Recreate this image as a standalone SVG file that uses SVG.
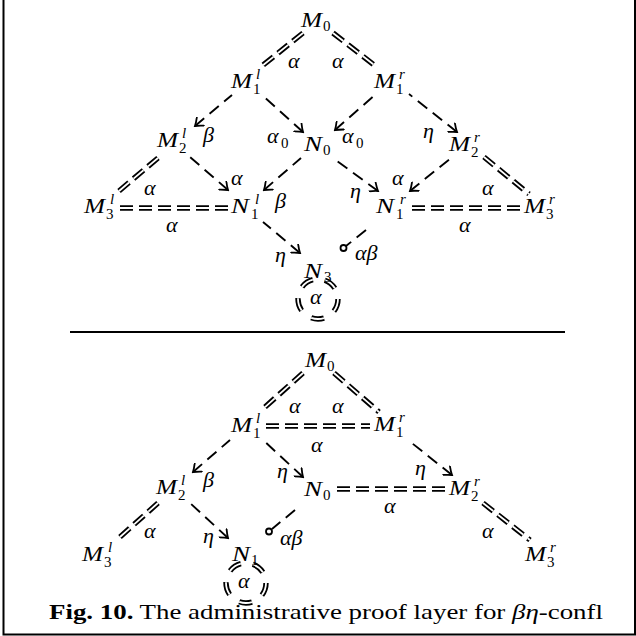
<svg xmlns="http://www.w3.org/2000/svg" width="636" height="636" viewBox="0 0 636 636">
<style>
.m{font-family:"Liberation Serif","Times New Roman",serif;font-style:italic;font-size:22px;fill:#000}
.g{font-family:"Liberation Serif","Times New Roman",serif;font-style:italic;font-size:22px;fill:#000}
.sp{font-family:"Liberation Serif","Times New Roman",serif;font-style:italic;font-size:15px;fill:#000}
.sd{font-family:"Liberation Serif","Times New Roman",serif;font-size:15px;fill:#000}
.cap{font-family:"Liberation Serif","Times New Roman",serif;font-size:21px;fill:#000}
.d{fill:none;stroke:#000;stroke-width:1.9;stroke-dasharray:12 7}
.a{marker-start:url(#ah)}
.bo{fill:none;stroke:#000;stroke-width:5.4;stroke-dasharray:13 6}
.bi{fill:none;stroke:#fff;stroke-width:1.8;stroke-dasharray:13 6}
.co{fill:none;stroke:#000;stroke-width:5.4;stroke-dasharray:13 12.13}
.ci{fill:none;stroke:#fff;stroke-width:1.8;stroke-dasharray:13 12.13}
.lo{fill:#fff;stroke:#000;stroke-width:1.8}
</style>
<defs>
<marker id="ah" viewBox="-8 -6 10 12" refX="0" refY="0" markerWidth="10" markerHeight="12" markerUnits="userSpaceOnUse" orient="auto-start-reverse">
<path d="M-7,-5.5 Q-2.5,-1.5 0,0 Q-2.5,1.5 -7,5.5" fill="none" stroke="#000" stroke-width="1.8" stroke-linecap="round" stroke-dasharray="none"/>
</marker>
</defs>
<rect width="636" height="636" fill="#fff"/>
<path d="M3.5,-2 V634.5 H635 V-2" fill="none" stroke="#000" stroke-width="2"/>
<line x1="70" y1="332" x2="565" y2="332" stroke="#000" stroke-width="2"/>

<g id="connectors">
<!-- top diagram -->
<path class="bo" d="M303,33 L262,66"/><path class="bi" d="M303,33 L262,66"/>
<path class="bo" d="M333,33 L378,68"/><path class="bi" d="M333,33 L378,68"/>
<path class="d a" d="M195,126 L232,95"/>
<path class="d a" d="M303,132 L262,95"/>
<path class="d a" d="M335,130 L376,94"/>
<path class="d a" d="M457,132 L409,94"/>
<path class="d a" d="M228,190 L190,157"/>
<path class="d a" d="M264,190 L301,158"/>
<path class="d a" d="M378,191 L333,158"/>
<path class="d a" d="M410,191 L451,158"/>
<path class="bo" d="M158,158 L119,191"/><path class="bi" d="M158,158 L119,191"/>
<path class="bo" d="M120,208 L228,208"/><path class="bi" d="M120,208 L228,208"/>
<path class="bo" d="M484,157 L529,194"/><path class="bi" d="M484,157 L529,194"/>
<path class="bo" d="M412,208 L522,208"/><path class="bi" d="M412,208 L522,208"/>
<path class="d a" d="M300,253 L263,222"/>
<path class="d" d="M366,230 L346,246"/><circle class="lo" cx="343.5" cy="248" r="3"/>
<circle class="co" cx="318" cy="299" r="20"/><circle class="ci" cx="318" cy="299" r="20"/>
<!-- bottom diagram -->
<path class="bo" d="M303,373 L264,408"/><path class="bi" d="M303,373 L264,408"/>
<path class="bo" d="M334,373 L379,412"/><path class="bi" d="M334,373 L379,412"/>
<path class="bo" d="M266,426 L370,426"/><path class="bi" d="M266,426 L370,426"/>
<path class="d a" d="M193,472 L230,440"/>
<path class="d a" d="M303,477 L263,440"/>
<path class="d a" d="M452,475 L408,440"/>
<path class="bo" d="M337,489 L446,489"/><path class="bi" d="M337,489 L446,489"/>
<path class="bo" d="M158,503 L120,537"/><path class="bi" d="M158,503 L120,537"/>
<path class="d a" d="M228,538 L190,503"/>
<path class="d" d="M295,510 L272,529"/><circle class="lo" cx="269" cy="531.5" r="3"/>
<path class="bo" d="M483,503 L530,540"/><path class="bi" d="M483,503 L530,540"/>
<circle class="co" cx="246" cy="583" r="20"/><circle class="ci" cx="246" cy="583" r="20"/>
</g>

<!-- top nodes -->
<g id="t-M0"><text class="m" x="301" y="27" textLength="21" lengthAdjust="spacingAndGlyphs">M</text><text class="sd" x="323" y="31">0</text></g>
<g id="t-M1l"><text class="m" x="231" y="88" textLength="21" lengthAdjust="spacingAndGlyphs">M</text><text class="sp" x="256" y="79">l</text><text class="sd" x="253" y="94">1</text></g>
<g id="t-M1r"><text class="m" x="374" y="88" textLength="21" lengthAdjust="spacingAndGlyphs">M</text><text class="sp" x="399" y="79">r</text><text class="sd" x="396" y="94">1</text></g>
<g id="t-M2l"><text class="m" x="157" y="147" textLength="21" lengthAdjust="spacingAndGlyphs">M</text><text class="sp" x="182" y="138">l</text><text class="sd" x="179" y="153">2</text></g>
<g id="t-N0"><text class="m" x="304" y="151" textLength="18" lengthAdjust="spacingAndGlyphs">N</text><text class="sd" x="323" y="155">0</text></g>
<g id="t-M2r"><text class="m" x="449" y="151" textLength="21" lengthAdjust="spacingAndGlyphs">M</text><text class="sp" x="474" y="142">r</text><text class="sd" x="471" y="157">2</text></g>
<g id="t-M3l"><text class="m" x="84" y="213" textLength="21" lengthAdjust="spacingAndGlyphs">M</text><text class="sp" x="110" y="204">l</text><text class="sd" x="106" y="219">3</text></g>
<g id="t-N1l"><text class="m" x="231" y="213" textLength="18" lengthAdjust="spacingAndGlyphs">N</text><text class="sp" x="255" y="204">l</text><text class="sd" x="251" y="219">1</text></g>
<g id="t-N1r"><text class="m" x="376" y="213" textLength="18" lengthAdjust="spacingAndGlyphs">N</text><text class="sp" x="400" y="204">r</text><text class="sd" x="396" y="219">1</text></g>
<g id="t-M3r"><text class="m" x="524" y="213" textLength="21" lengthAdjust="spacingAndGlyphs">M</text><text class="sp" x="549" y="204">r</text><text class="sd" x="546" y="219">3</text></g>
<g id="t-N3"><text class="m" x="304" y="278" textLength="18" lengthAdjust="spacingAndGlyphs">N</text><text class="sd" x="324" y="282">3</text></g>

<!-- top labels -->
<g id="t-labels">
<text class="g" x="288" y="68">α</text>
<text class="g" x="332" y="68">α</text>
<text class="g" x="203" y="142">β</text>
<text class="g" x="267" y="143">α</text><text class="sd" x="281" y="148">0</text>
<text class="g" x="342" y="143">α</text><text class="sd" x="356" y="148">0</text>
<text class="g" x="423" y="138">η</text>
<text class="g" x="231" y="185">α</text>
<text class="g" x="144" y="195">α</text>
<text class="g" x="166" y="232">α</text>
<text class="g" x="275" y="208">β</text>
<text class="g" x="350" y="198">η</text>
<text class="g" x="392" y="185">α</text>
<text class="g" x="482" y="195">α</text>
<text class="g" x="459" y="232">α</text>
<text class="g" x="355" y="260">αβ</text>
<text class="g" x="275" y="262">η</text>
<text class="g" x="310" y="304">α</text>
</g>

<!-- bottom nodes -->
<g id="b-M0"><text class="m" x="305" y="367" textLength="21" lengthAdjust="spacingAndGlyphs">M</text><text class="sd" x="327" y="371">0</text></g>
<g id="b-M1l"><text class="m" x="231" y="432" textLength="21" lengthAdjust="spacingAndGlyphs">M</text><text class="sp" x="256" y="423">l</text><text class="sd" x="253" y="438">1</text></g>
<g id="b-M1r"><text class="m" x="374" y="431" textLength="21" lengthAdjust="spacingAndGlyphs">M</text><text class="sp" x="399" y="422">r</text><text class="sd" x="396" y="437">1</text></g>
<g id="b-M2l"><text class="m" x="156" y="494" textLength="21" lengthAdjust="spacingAndGlyphs">M</text><text class="sp" x="181" y="485">l</text><text class="sd" x="178" y="500">2</text></g>
<g id="b-N0"><text class="m" x="304" y="496" textLength="18" lengthAdjust="spacingAndGlyphs">N</text><text class="sd" x="323" y="500">0</text></g>
<g id="b-M2r"><text class="m" x="449" y="495" textLength="21" lengthAdjust="spacingAndGlyphs">M</text><text class="sp" x="474" y="486">r</text><text class="sd" x="471" y="501">2</text></g>
<g id="b-M3l"><text class="m" x="82" y="561" textLength="21" lengthAdjust="spacingAndGlyphs">M</text><text class="sp" x="108" y="552">l</text><text class="sd" x="104" y="567">3</text></g>
<g id="b-N1"><text class="m" x="232" y="561" textLength="18" lengthAdjust="spacingAndGlyphs">N</text><text class="sd" x="251" y="565">1</text></g>
<g id="b-M3r"><text class="m" x="525" y="561" textLength="21" lengthAdjust="spacingAndGlyphs">M</text><text class="sp" x="550" y="552">r</text><text class="sd" x="547" y="567">3</text></g>

<!-- bottom labels -->
<g id="b-labels">
<text class="g" x="289" y="413">α</text>
<text class="g" x="332" y="413">α</text>
<text class="g" x="311" y="452">α</text>
<text class="g" x="203" y="487">β</text>
<text class="g" x="277" y="478">η</text>
<text class="g" x="415" y="475">η</text>
<text class="g" x="384" y="513">α</text>
<text class="g" x="482" y="538">α</text>
<text class="g" x="144" y="538">α</text>
<text class="g" x="203" y="543">η</text>
<text class="g" x="280" y="545">αβ</text>
<text class="g" x="238" y="588">α</text>
</g>

<text class="cap" x="49" y="619" textLength="554" lengthAdjust="spacingAndGlyphs"><tspan font-weight="bold">Fig. 10.</tspan> The administrative proof layer for <tspan font-style="italic">βη</tspan>-confl</text>
</svg>
